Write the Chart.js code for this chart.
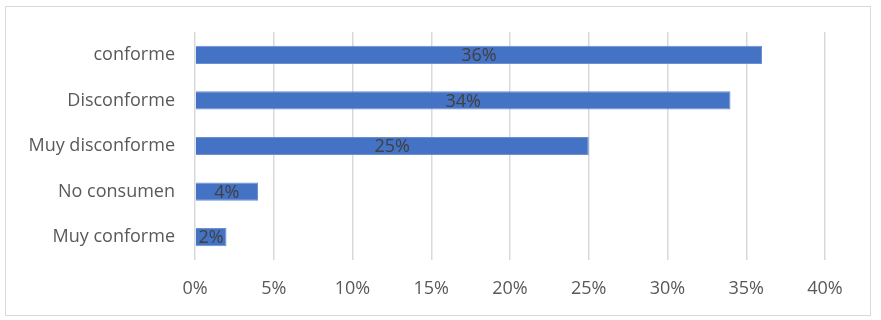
<!DOCTYPE html>
<html lang="es">
<head>
    <meta charset="UTF-8">
    <title>Nivel de conformidad</title>
    <script src="https://cdn.jsdelivr.net/npm/chart.js"></script>
    <style>
        body { margin: 0; background: #fff; }
        #frame { position: absolute; left: 5px; top: 6px; width: 864px; height: 308px; border: 1px solid #d9d9d9; }
        #wrap { position: absolute; left: 0; top: 0; width: 881px; height: 320px; }
    </style>
</head>
<body>
    <div id="frame"></div>
    <div id="wrap"><canvas id="chart" width="881" height="320"></canvas></div>
    <script>
        const categories = ['conforme', 'Disconforme', 'Muy disconforme', 'No consumen', 'Muy conforme'];
        const percentages = [36, 34, 25, 4, 2];
        const axisMax = 40;
        const axisStep = 5;

        const fontFamily = '"Open Sans", Lato, sans-serif';

        // draws the value in the middle of each bar
        const barLabels = {
            id: 'barLabels',
            afterDatasetsDraw(chart) {
                const ctx = chart.ctx;
                const meta = chart.getDatasetMeta(0);
                ctx.save();
                ctx.font = '18px ' + fontFamily;
                ctx.fillStyle = '#404040';
                ctx.textAlign = 'center';
                ctx.textBaseline = 'middle';
                meta.data.forEach((bar, i) => {
                    const cx = (bar.x + bar.base) / 2;
                    ctx.fillText(percentages[i] + '%', cx, bar.y + 1);
                });
                ctx.restore();
            }
        };

        new Chart(document.getElementById('chart'), {
            type: 'bar',
            data: {
                labels: categories,
                datasets: [{
                    data: percentages,
                    backgroundColor: '#4472c4',
                    borderColor: '#6a8fd3',
                    borderWidth: 1,
                    categoryPercentage: 1,
                    barPercentage: 0.4
                }]
            },
            options: {
                indexAxis: 'y',
                responsive: false,
                animation: false,
                layout: { padding: { top: 32, right: 56, bottom: 0, left: 0 } },
                plugins: { legend: { display: false }, tooltip: { enabled: false } },
                scales: {
                    x: {
                        min: 0,
                        max: axisMax,
                        ticks: {
                            stepSize: axisStep,
                            padding: 18,
                            color: '#595959',
                            font: { family: fontFamily, size: 18 },
                            callback: v => v + '%'
                        },
                        grid: { color: '#d9d9d9', lineWidth: 1.5, drawTicks: false },
                        border: { display: false },
                        afterFit: s => { s.height = 60; }
                    },
                    y: {
                        ticks: {
                            padding: 20,
                            color: '#595959',
                            font: { family: fontFamily, size: 18 }
                        },
                        grid: { display: false, drawTicks: false },
                        border: { display: false },
                        afterFit: s => { s.width = 195; }
                    }
                }
            },
            plugins: [barLabels]
        });
    </script>
</body>
</html>
